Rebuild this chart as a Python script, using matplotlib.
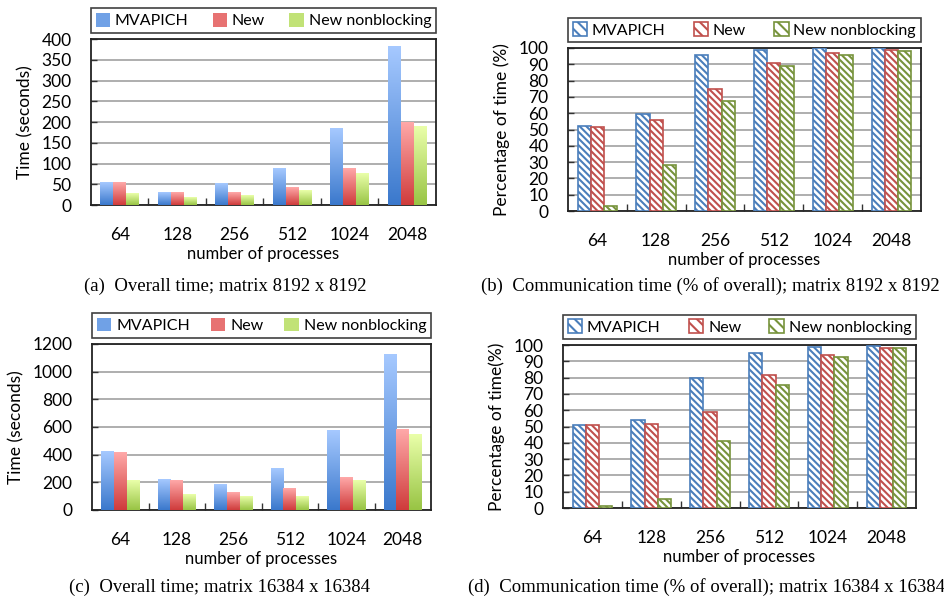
import numpy as np
import matplotlib
matplotlib.use("Agg")
import matplotlib.pyplot as plt
from matplotlib.colors import LinearSegmentedColormap
from matplotlib.patches import Patch

plt.rcParams['font.family'] = ['Lato', 'DejaVu Sans']
plt.rcParams['hatch.linewidth'] = 1.5

procs = ['64', '128', '256', '512', '1024', '2048']
series = ['MVAPICH', 'New', 'New nonblocking']

# (a) overall time, matrix 8192
time_8k_mvapich = [54, 31, 51, 89, 185, 383]
time_8k_new = [54, 30, 30, 43, 87, 198]
time_8k_nb = [27, 17, 22, 36, 75, 188]

# (b) communication %, matrix 8192
comm_8k_mvapich = [52.4, 59.3, 95.5, 99, 100, 100]
comm_8k_new = [51.5, 56, 74.6, 91, 96.7, 99]
comm_8k_nb = [3.3, 28, 67.7, 89, 96, 98.4]

# (c) overall time, matrix 16384
time_16k_mvapich = [420, 224, 181, 297, 572, 1123]
time_16k_new = [413, 210, 130, 152, 232, 579]
time_16k_nb = [210, 109, 94, 101, 210, 543]

# (d) communication %, matrix 16384
comm_16k_mvapich = [51.2, 53.7, 79.8, 94.9, 98.6, 99.6]
comm_16k_new = [50.8, 51.8, 58.8, 81.6, 93.7, 98.4]
comm_16k_nb = [1.2, 5.5, 41.4, 75.7, 92.7, 98.4]

grad = [('#3a78cc', '#a6c9ff'), ('#cf3b3b', '#ffa9a9'), ('#98c444', '#eaffaa')]
hatch_cols = ['#4a7ebb', '#c0504d', '#77933c']
HATCH = '\\' * 5

W = 0.225


def setup(ax, ymax, step, ylabel):
    ax.set_xlim(-0.5, 5.5)
    ax.set_ylim(0, ymax)
    ax.set_yticks(np.arange(0, ymax + 1, step))
    ax.set_xticks(range(6))
    ax.set_xticklabels(procs)
    ax.set_xticks(np.arange(0.5, 5.5, 1), minor=True)
    ax.tick_params(axis='x', which='major', length=0, pad=16, labelsize=12.5)
    ax.tick_params(axis='x', which='minor', direction='in', length=5, width=1, color='#333333')
    ax.tick_params(axis='y', direction='in', length=4, width=1, color='#333333', pad=14, labelsize=12.5)
    ax.grid(axis='y', color='#999999', linewidth=1.1)
    ax.set_axisbelow(True)
    for s in ax.spines.values():
        s.set_color('#222222')
        s.set_linewidth(1.3)
    ax.set_xlabel('number of processes', fontsize=12, labelpad=2)
    ax.set_ylabel(ylabel, fontsize=12.5, labelpad=6)


def gradient_panel(ax, vals, ymax, step, ylabel):
    x = np.arange(6)
    handles = []
    for i, v in enumerate(vals):
        bars = ax.bar(x + (i - 1) * W, v, W, color=grad[i][0], zorder=2)
        cmap = LinearSegmentedColormap.from_list('g%d' % i, grad[i])
        g = np.linspace(0, 1, 256).reshape(-1, 1)
        for b in bars:
            bx, by = b.get_x(), b.get_y()
            ax.imshow(g, cmap=cmap, origin='lower', aspect='auto', zorder=3,
                      extent=[bx, bx + b.get_width(), by, by + b.get_height()])
        handles.append(Patch(facecolor=cmap(0.5), label=series[i]))
    setup(ax, ymax, step, ylabel)
    add_legend(ax, handles)


def hatch_panel(ax, vals, ymax, step, ylabel):
    x = np.arange(6)
    handles = []
    for i, v in enumerate(vals):
        ax.bar(x + (i - 1) * W, v, W, facecolor='white', edgecolor=hatch_cols[i],
               hatch=HATCH, linewidth=1.2, zorder=3)
        handles.append(Patch(facecolor='white', edgecolor=hatch_cols[i], hatch='\\\\\\',
                             linewidth=1.2, label=series[i]))
    setup(ax, ymax, step, ylabel)
    add_legend(ax, handles)


def add_legend(ax, handles):
    leg = ax.legend(handles=handles, loc='lower left', bbox_to_anchor=(0, 1.035, 1, 0.14),
                    mode='expand', ncol=3, fontsize=11.5, frameon=True, fancybox=False,
                    borderaxespad=0, handlelength=0.9, handleheight=0.9, handletextpad=0.3,
                    borderpad=0.3, columnspacing=1.0)
    leg.get_frame().set_edgecolor('#111111')
    leg.get_frame().set_linewidth(1.2)


fig = plt.figure(figsize=(9.45, 6.0), dpi=100)

ax_a = fig.add_axes([0.0963, 0.6583, 0.365, 0.2767])
ax_b = fig.add_axes([0.601, 0.6483, 0.3735, 0.2717])
ax_c = fig.add_axes([0.0974, 0.15, 0.3587, 0.2767])
ax_d = fig.add_axes([0.5958, 0.1533, 0.3735, 0.2717])

gradient_panel(ax_a, [time_8k_mvapich, time_8k_new, time_8k_nb], 400, 50, 'Time (seconds)')
hatch_panel(ax_b, [comm_8k_mvapich, comm_8k_new, comm_8k_nb], 100, 10, 'Percentage of time (%)')
gradient_panel(ax_c, [time_16k_mvapich, time_16k_new, time_16k_nb], 1200, 200, 'Time (seconds)')
hatch_panel(ax_d, [comm_16k_mvapich, comm_16k_new, comm_16k_nb], 100, 10, 'Percentage of time(%)')

cap = dict(family='Liberation Serif', fontsize=13.5, ha='center', va='center')
fig.text(225 / 945, 1 - 286 / 600, '(a)  Overall time; matrix 8192 x 8192', **cap)
fig.text(710 / 945, 1 - 286 / 600, '(b)  Communication time (% of overall); matrix 8192 x 8192', **cap)
fig.text(220 / 945, 1 - 587 / 600, '(c)  Overall time; matrix 16384 x 16384', **cap)
fig.text(706 / 945, 1 - 587 / 600, '(d)  Communication time (% of overall); matrix 16384 x 16384', **cap)

fig.savefig('out.png', dpi=100)
